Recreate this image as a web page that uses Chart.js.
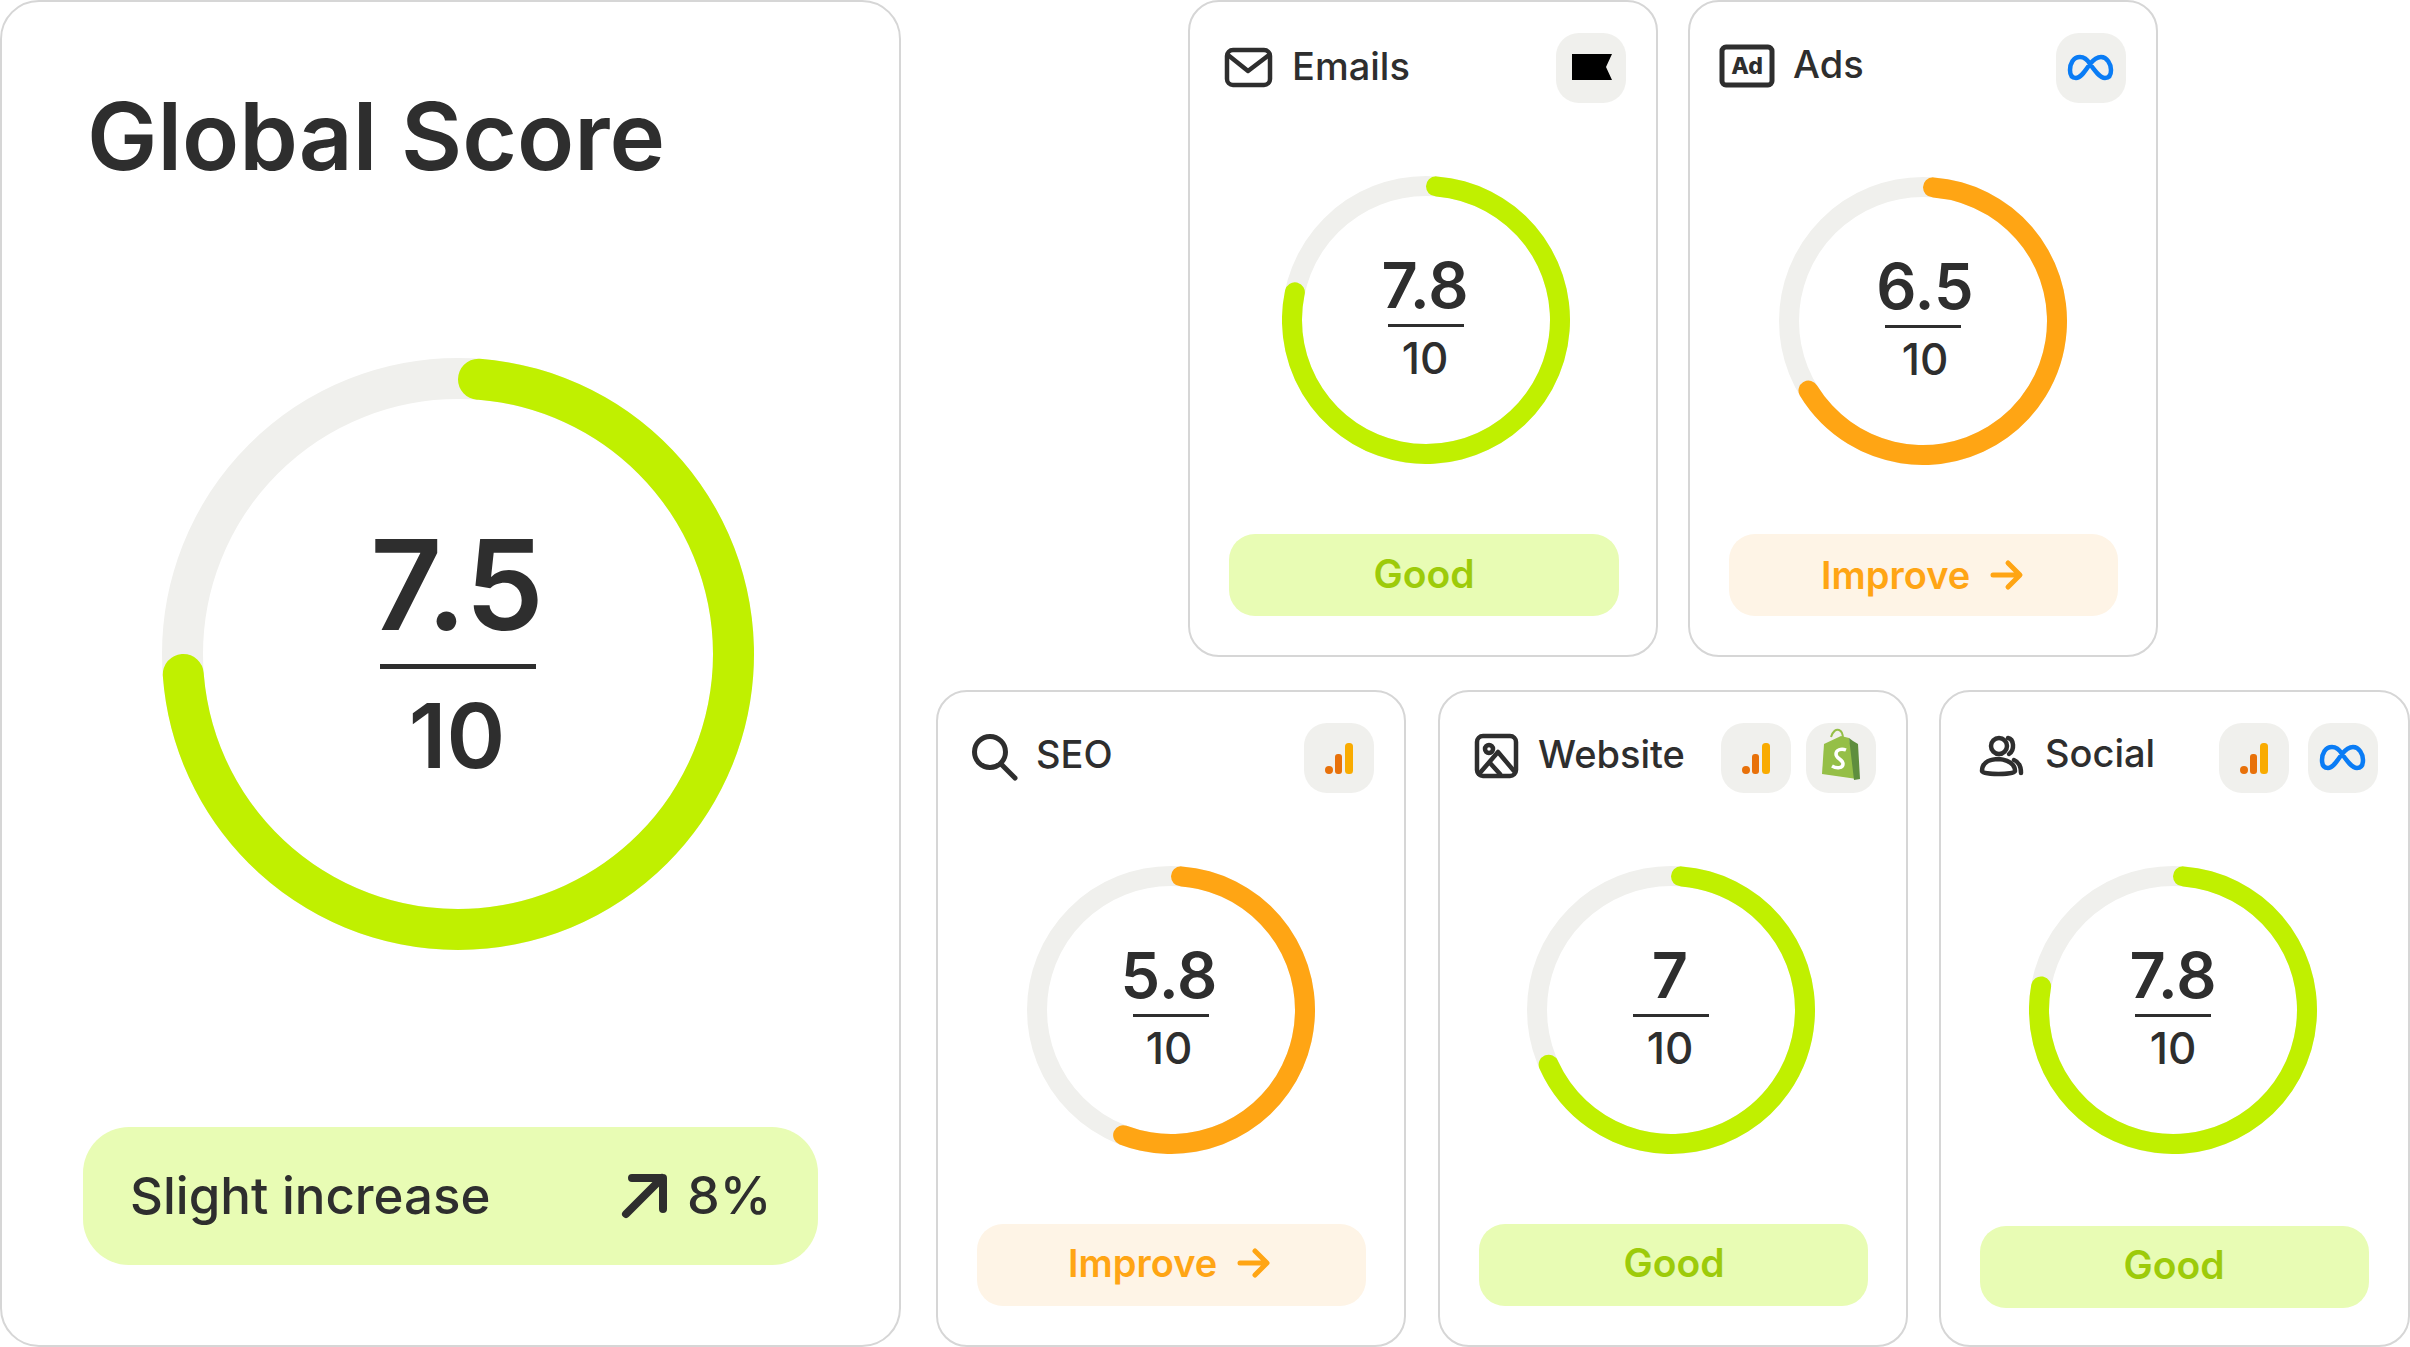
<!DOCTYPE html>
<html>
<head>
<title>Global Score</title>
<meta charset="UTF-8">
<script src="https://cdn.jsdelivr.net/npm/chart.js@4"></script>
<style>
  html, body { margin: 0; padding: 0; background: #fff; }
  #page { position: relative; width: 2410px; height: 1347px; overflow: hidden; }
  #page svg { position: absolute; left: 0; top: 0; }
  #page canvas { position: absolute; }
  text { font-family: Inter, sans-serif; fill: #2e2e2e; }
</style>
</head>
<body>
<div id="page">
  <svg id="art" width="2410" height="1347" viewBox="0 0 2410 1347"></svg>
</div>
<script>
// data
const names = ['Global Score', 'Emails', 'Ads', 'SEO', 'Website', 'Social'];
const scoreLabels = ['7.5', '7.8', '6.5', '5.8', '7', '7.8'];
const outOf = 10;
// how far each ring is actually filled (measured on the ring, not the label)
const filled = [7.5, 7.95, 6.75, 5.7, 6.95, 7.9];
const verdicts = ['Slight increase', 'Good', 'Improve', 'Improve', 'Good', 'Good'];
const changeLabel = '8%';
const tools = [[], ['klaviyo'], ['meta'], ['analytics'], ['analytics', 'shopify'], ['analytics', 'meta']];

// layout, one entry per card
const GREEN = '#c0f000', ORANGE = '#ffa514', TRACK = '#f0f0ed', INK = '#2e2e2e';
const boxes = [
  { x: 1, y: 1, w: 899, h: 1345, r: 38 },
  { x: 1189, y: 1, w: 468, h: 655, r: 30 },
  { x: 1689, y: 1, w: 468, h: 655, r: 30 },
  { x: 937, y: 691, w: 468, h: 655, r: 30 },
  { x: 1439, y: 691, w: 468, h: 655, r: 30 },
  { x: 1940, y: 691, w: 469, h: 655, r: 30 }
];
const rings = [
  { cx: 458, cy: 654, R: 296, t: 41, dx: 0 },
  { cx: 1426, cy: 320, R: 144, t: 20, dx: 0 },
  { cx: 1923, cy: 321, R: 144, t: 20, dx: 3 },
  { cx: 1171, cy: 1010, R: 144, t: 20, dx: -1 },
  { cx: 1671, cy: 1010, R: 144, t: 20, dx: 0 },
  { cx: 2173, cy: 1010, R: 144, t: 20, dx: 1 }
];
const pills = [
  { x: 83, y: 1127, w: 735, h: 138 },
  { x: 1229, y: 534, w: 390, h: 82, tx: 1424, by: 588 },
  { x: 1729, y: 534, w: 389, h: 82, tx: 1821, by: 589 },
  { x: 977, y: 1224, w: 389, h: 82, tx: 1068, by: 1277 },
  { x: 1479, y: 1224, w: 389, h: 82, tx: 1674, by: 1277 },
  { x: 1980, y: 1226, w: 389, h: 82, tx: 2174, by: 1279 }
];
const titles = [
  { x: 87, by: 170 },
  { x: 1292, by: 80 },
  { x: 1793, by: 78 },
  { x: 1036, by: 768 },
  { x: 1538, by: 768 },
  { x: 2045, by: 767 }
];
const chipSpots = [[], [1556], [2056], [1304], [1721, 1806], [2219, 2308]];
const chipTop = [0, 33, 33, 723, 723, 723];

function card(b) {
  return `<rect x="${b.x}" y="${b.y}" width="${b.w}" height="${b.h}" rx="${b.r}" fill="#fff" stroke="#d6d6d6" stroke-width="2"/>`;
}

function label(txt, x, y, size, weight, anchor, color) {
  return `<text x="${x}" y="${y}" font-size="${size}" font-weight="${weight}" text-anchor="${anchor || 'start'}"${color ? ` style="fill:${color}"` : ''}>${txt}</text>`;
}

function toolIcon(kind, x, y) {
  // x,y is the chip's top left corner
  let s = `<rect x="${x}" y="${y}" width="70" height="70" rx="23" fill="${TRACK}"/>`;
  s += `<g transform="translate(${x},${y})">`;
  if (kind == 'klaviyo') {
    s += '<path d="M16 21H56L50 34L56 47H16Z" fill="#000"/>';
  } else if (kind == 'meta') {
    s += '<path d="M24 24C17 24 14 31 14 37C14 42 16 45 20 45C25 45 29 38 34 31C38 26 41 24 45 24C51 24 55 31 55 37C55 42 53 45 49 45C44 45 39 38 34 31C31 26 28 24 24 24Z" fill="none" stroke="#0a7cf5" stroke-width="4.5"/>';
  } else if (kind == 'analytics') {
    s += '<rect x="41" y="20" width="8" height="31" rx="3.5" fill="#f9ab00"/>';
    s += '<rect x="31" y="31" width="7" height="20" rx="3" fill="#e8710a"/>';
    s += '<circle cx="25" cy="47" r="4" fill="#e8710a"/>';
  } else if (kind == 'shopify') {
    s += '<path d="M18 21L35 13L43 15L51 56L16 51Z" fill="#95bf47"/>';
    s += '<path d="M43 15L47 18L52 21L54 56L48 57Z" fill="#5e8e3e"/>';
    s += '<path d="M25 14C27 8 30 6 33 7C36 8 37 11 37 16" fill="none" stroke="#95bf47" stroke-width="2"/>';
    s += '<path d="M40 27C35 25 30 27 30 31C30 36 37 36 37 41C37 45 31 46 26 43" fill="none" stroke="#fff" stroke-width="3.5"/>';
  }
  return s + '</g>';
}

function cardIcon(i) {
  const st = `fill="none" stroke="${INK}" stroke-linecap="round" stroke-linejoin="round"`;
  if (i == 1) return `<g ${st} stroke-width="4.5"><rect x="1227" y="50" width="43" height="35" rx="6"/><path d="M1228 55L1248 71L1269 55"/></g>`;
  if (i == 2) return `<rect x="1722" y="47" width="50" height="38" rx="4" ${st} stroke-width="5"/>` + label('Ad', 1747, 74, 23, 800, 'middle');
  if (i == 3) return `<g ${st} stroke-width="5"><circle cx="990" cy="752" r="15.5"/><path d="M1001 764L1015 778"/></g>`;
  if (i == 4) return `<g ${st} stroke-width="4.5"><rect x="1477" y="736" width="39" height="40" rx="6"/><circle cx="1489" cy="749" r="4"/><path d="M1479 774L1498 752L1514 771"/><path d="M1490 763L1500 774"/></g>`;
  if (i == 5) return `<g ${st} stroke-width="4.5"><circle cx="1999" cy="746" r="8"/><path d="M1982 771C1982 761 1992 759 1999 759C1999 759 2015 760 2015 771C2015 775 1982 775 1982 771Z"/><path d="M2008 738C2014 739 2015 750 2009 754"/><path d="M2014 760C2019 762 2021 767 2021 773"/></g>`;
  return '';
}

function arrowRight(x, y, color) {
  return `<path d="M${x} ${y}H${x + 26}M${x + 15} ${y - 12}L${x + 27} ${y}L${x + 15} ${y + 12}" fill="none" stroke="${color}" stroke-width="5" stroke-linecap="round" stroke-linejoin="round"/>`;
}

// static card furniture
let art = '';
names.forEach(function (name, i) {
  art += card(boxes[i]);
  const p = pills[i];
  const good = verdicts[i] != 'Improve';
  const r = i == 0 ? 46 : 26;
  art += `<rect x="${p.x}" y="${p.y}" width="${p.w}" height="${p.h}" rx="${r}" fill="${good ? '#e8fcb4' : '#fef4e6'}"/>`;
  const t = titles[i];
  if (i == 0) {
    art += label(name, t.x, t.by, 94, 600);
    art += label(verdicts[i], 130, 1214, 51, 500);
    art += `<path d="M626 1214L662 1178M632 1178H663V1209" fill="none" stroke="${INK}" stroke-width="8" stroke-linecap="round" stroke-linejoin="round"/>`;
    art += label(changeLabel, 687, 1214, 52, 500);
  } else {
    art += label(name, t.x, t.by, 38, 500);
    art += cardIcon(i);
    tools[i].forEach(function (kind, k) {
      art += toolIcon(kind, chipSpots[i][k], chipTop[i]);
    });
    if (good) {
      art += label(verdicts[i], p.tx, p.by, 39, 600, 'middle', '#9dcb0a');
    } else {
      art += label(verdicts[i], p.tx, p.by, 38, 600, 'start', ORANGE);
      art += arrowRight(p.tx + 172, p.by - 14, ORANGE);
    }
  }
  // score in the ring
  const g = rings[i];
  const big = i == 0;
  art += label(scoreLabels[i], g.cx - 1 + g.dx, g.cy + (big ? -24 : -12), big ? 125 : 63, 600, 'middle');
  art += `<rect x="${g.cx - (big ? 78 : 38)}" y="${g.cy + (big ? 10 : 4)}" width="${big ? 156 : 76}" height="${big ? 5 : 3}" fill="${INK}"/>`;
  art += label(outOf, g.cx - 1 + g.dx, g.cy + (big ? 114 : 54), big ? 89 : 44, big ? 600 : 550, 'middle');
});
document.getElementById('art').innerHTML = art;

// grey full ring under the value arc, same radii as the arc
const trackPlugin = {
  id: 'track',
  beforeDatasetsDraw(chart) {
    const a = chart.getDatasetMeta(0).data[0];
    const c = chart.ctx;
    c.save();
    c.beginPath();
    c.arc(a.x, a.y, (a.outerRadius + a.innerRadius) / 2, 0, Math.PI * 2);
    c.lineWidth = a.outerRadius - a.innerRadius;
    c.strokeStyle = TRACK;
    c.stroke();
    c.restore();
  }
};

names.forEach(function (name, i) {
  const g = rings[i];
  const cv = document.createElement('canvas');
  cv.width = g.R * 2;
  cv.height = g.R * 2;
  cv.style.left = (g.cx - g.R) + 'px';
  cv.style.top = (g.cy - g.R) + 'px';
  document.getElementById('page').appendChild(cv);
  const isOrange = verdicts[i] == 'Improve';
  new Chart(cv.getContext('2d'), {
    type: 'doughnut',
    data: {
      labels: [name, 'rest'],
      datasets: [{
        data: [filled[i], outOf - filled[i]],
        backgroundColor: [isOrange ? ORANGE : GREEN, 'rgba(0,0,0,0)'],
        borderWidth: 0,
        borderRadius: g.t / 2
      }]
    },
    options: {
      responsive: false,
      animation: false,
      cutout: g.R - g.t,
      plugins: { legend: { display: false }, tooltip: { enabled: false } },
      events: []
    },
    plugins: [trackPlugin]
  });
});
</script>
</body>
</html>
